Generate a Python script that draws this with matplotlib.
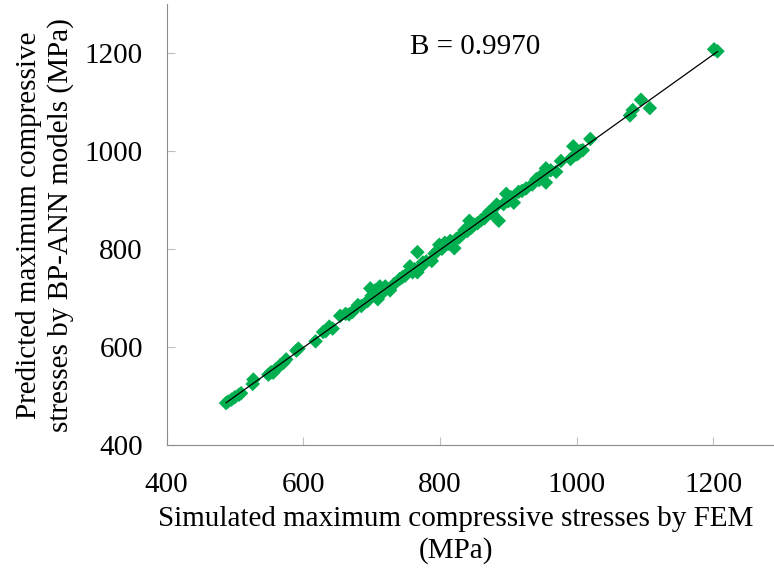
import matplotlib
matplotlib.use("Agg")
import matplotlib.pyplot as plt
import numpy as np

# FEM simulated vs BP-ANN predicted max compressive stresses (MPa)
fem = [487, 490, 495, 500, 506, 509, 526, 527, 549, 553, 556, 560, 566, 571, 575,
       590, 593, 618, 629, 633, 638, 643, 654, 662, 667, 672, 680, 685, 694, 698,
       700, 705, 709, 712, 716, 720, 727, 733, 741, 745, 749, 756, 760, 763, 767,
       767, 770, 775, 780, 788, 792, 796, 799, 803, 807, 812, 815, 821, 824, 828,
       832, 836, 840, 843, 846, 850, 855, 860, 865, 868, 872, 876, 880, 883, 886,
       893, 897, 900, 904, 908, 915, 920, 926, 935, 941, 945, 948, 952, 955, 955,
       962, 970, 977, 991, 995, 999, 1002, 1006, 1009, 1020, 1078, 1082, 1094,
       1107, 1201, 1206]
ann = [485, 488, 492, 497, 502, 505, 524, 533, 543, 548, 547, 554, 562, 567, 574,
       592, 596, 611, 630, 632, 641, 637, 663, 667, 666, 671, 685, 683, 693, 719,
       704, 715, 697, 723, 710, 723, 715, 728, 738, 742, 745, 764, 752, 758, 793,
       752, 760, 772, 774, 775, 790, 795, 808, 800, 812, 810, 816, 801, 820, 823,
       829, 838, 836, 857, 843, 849, 852, 858, 862, 868, 875, 872, 884, 890, 857,
       891, 912, 897, 905, 894, 916, 918, 923, 931, 942, 940, 949, 951, 964, 935,
       960, 957, 979, 983, 1009, 992, 994, 1000, 1001, 1024, 1072, 1083, 1104,
       1087, 1207, 1203]
B = 0.9970  # trendline slope (through origin)

x_ticks = [400, 600, 800, 1000, 1200]
y_ticks = [400, 600, 800, 1000, 1200]

plt.rcParams['font.family'] = ['Liberation Serif', 'DejaVu Serif']

fig = plt.figure(figsize=(7.74, 5.73), dpi=100)
ax = fig.add_axes([0.2152, 0.2239, 0.7948, 0.7696])

ax.scatter(fem, ann, marker='D', s=55, color='#00B050', edgecolors='none', zorder=2)
xl = np.array([min(fem), max(fem)])
ax.plot(xl, B * xl, color='black', linewidth=0.9, zorder=3)

ax.set_xlim(400, 1300)
ax.set_ylim(400, 1300)
ax.set_xticks(x_ticks)
ax.set_yticks(y_ticks)
ax.tick_params(direction='in', length=6, width=0.8, color='#BFBFBF', labelsize=21)
ax.tick_params(axis='x', pad=20)
ax.tick_params(axis='y', pad=17)
for s in ['top', 'right']:
    ax.spines[s].set_visible(False)
for s in ['left', 'bottom']:
    ax.spines[s].set_color('#8C8C8C')
    ax.spines[s].set_linewidth(0.8)

ax.text(851, 1212, 'B = 0.9970', ha='center', va='center', fontsize=21)

fig.text(0.589, 0.066, 'Simulated maximum compressive stresses by FEM\n(MPa)',
         ha='center', va='center', fontsize=21, linespacing=1.25)
fig.text(0.058, 0.607, 'Predicted maximum compressive\nstresses by BP-ANN models (MPa)',
         ha='center', va='center', rotation=90, fontsize=21, linespacing=1.25)

fig.savefig('out.png', dpi=100)
